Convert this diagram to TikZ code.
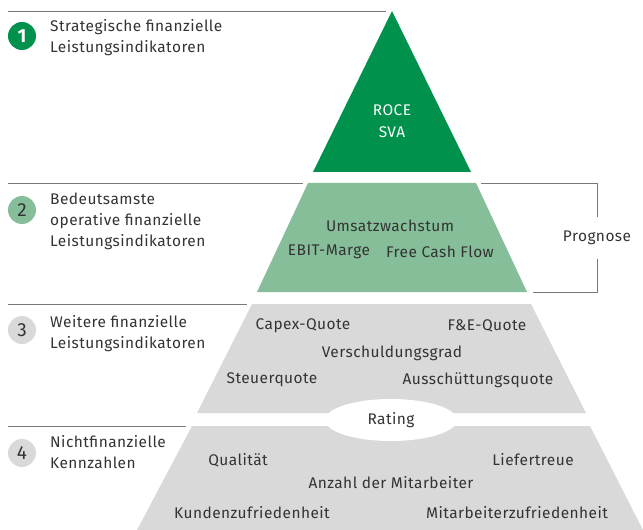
\documentclass[tikz,border=0pt]{standalone}
\usepackage{fontspec}
\setmainfont{Fira Sans}[LetterSpace=3]
\usetikzlibrary{shapes.geometric}
\definecolor{dkgreen}{RGB}{0,145,76}
\definecolor{ltgreen}{RGB}{133,190,152}
\definecolor{ltgray}{RGB}{217,217,218}
\definecolor{rulegray}{RGB}{120,120,120}
\definecolor{txt}{RGB}{51,51,51}
\begin{document}
\begin{tikzpicture}[x=1bp, y=-1bp, font=\fontsize{15.5}{21}\selectfont, text=txt,
  rule/.style={draw=rulegray, line width=0.8bp},
  badge/.style={circle, minimum size=28bp, inner sep=0pt, font=\fontsize{19}{19}\selectfont},
  lbl/.style={anchor=north west, align=left, inner sep=0pt}]
  \useasboundingbox (0,0) rectangle (643,530);
  \fill[dkgreen] (392,11) -- (471,172) -- (313,172) -- cycle;
  \fill[ltgreen] (308,183) -- (476,183) -- (527,292) -- (257,292) -- cycle;
  \fill[ltgray] (252,304) -- (531,304) -- (586,413) -- (197,413) -- cycle;
  \fill[ltgray] (192,426) -- (590,426) -- (643,530) -- (137,530) -- cycle;
  \draw[rule] (8,11) -- (386,11);
  \draw[rule] (8,183) -- (303,183);
  \draw[rule] (8,304) -- (247,304);
  \draw[rule] (8,426) -- (186,426);
  \node (n1) [badge, fill=dkgreen, text=white] at (22,36) {\bfseries 1};
  \node (n2) [badge, fill=ltgreen] at (22,210) {2};
  \node (n3) [badge, fill=ltgray] at (22,330) {3};
  \node (n4) [badge, fill=ltgray] at (22,453) {4};
  \node (l1) [lbl] at (50,19) {Strategische finanzielle\\Leistungsindikatoren};
  \node (l2) [lbl] at (50,193) {Bedeutsamste\\operative finanzielle\\Leistungsindikatoren};
  \node (l3) [lbl] at (50,315) {Weitere finanzielle\\Leistungsindikatoren};
  \node (l4) [lbl] at (50,435) {Nichtfinanzielle\\Kennzahlen};
  \node (roce) [text=white] at (392,110) {ROCE};
  \node (sva) [text=white] at (392,132) {SVA};
  \node (umsatz) at (390,226) {Umsatzwachstum};
  \node (ebit) at (329,252) {EBIT-Marge};
  \node (fcf) at (440,252) {Free Cash Flow};
  \node (prog) [minimum height=41bp] at (597,238) {Prognose};
  \draw[rule] (481,183) -| (prog.north);
  \draw[rule] (prog.south) |- (533,292);
  \node (capex) at (303,326) {Capex-Quote};
  \node (fue) at (487,326) {F\&E-Quote};
  \node (vgrad) at (392,353) {Verschuldungsgrad};
  \node (steuer) at (272,380) {Steuerquote};
  \node (aussch) at (478,380) {Ausschüttungsquote};
  \node (rating) [ellipse, fill=white, minimum width=132bp, minimum height=42bp] at (391,420) {Rating};
  \node (quali) at (238,460) {Qualität};
  \node (liefer) at (533,460) {Liefertreue};
  \node (anzahl) at (391,483) {Anzahl der Mitarbeiter};
  \node (kunden) at (252,513) {Kundenzufriedenheit};
  \node (mazuf) at (517,513) {Mitarbeiterzufriedenheit};
\end{tikzpicture}
\end{document}
